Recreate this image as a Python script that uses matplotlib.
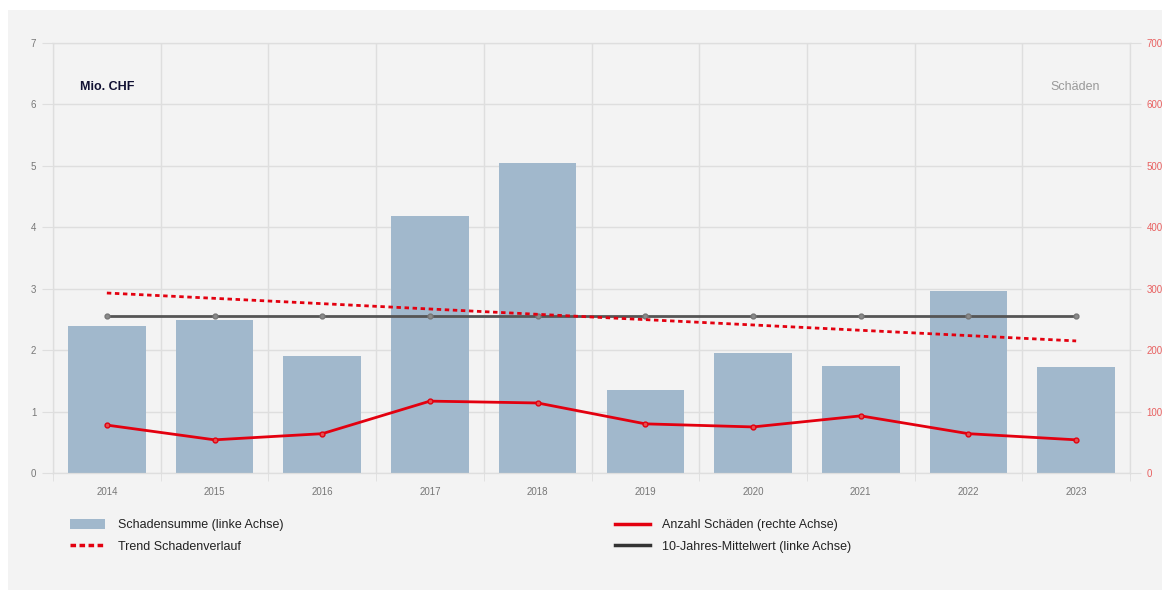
import matplotlib.pyplot as plt
from matplotlib.patches import Rectangle
from matplotlib.lines import Line2D
from matplotlib.patches import Patch

# data
years = ['2014', '2015', '2016', '2017', '2018', '2019', '2020', '2021', '2022', '2023']
schadensumme = [2.40, 2.49, 1.91, 4.19, 5.04, 1.35, 1.96, 1.74, 2.97, 1.72]   # Mio. CHF
anzahl = [78, 54, 64, 117, 114, 80, 75, 93, 64, 54]                          # Schäden
mittelwert = [2.56] * 10
trend_years = [0, 9]
trend_values = [2.93, 2.15]

bar_color = '#a1b8cc'
red = '#e3000f'
dark = '#555555'
grid_color = '#dedede'
bg = '#f3f3f3'

plt.rcParams['font.family'] = ['Liberation Sans', 'DejaVu Sans']

fig = plt.figure(figsize=(11.76, 5.92), dpi=100)
fig.patch.set_facecolor('white')
fig.patches.append(Rectangle((8 / 1176, 1 - 590 / 592), 1154 / 1176, 580 / 592,
                             transform=fig.transFigure, facecolor=bg, edgecolor='none', zorder=-1))

ax = fig.add_axes([53 / 1176, 1 - 473 / 592, 1077 / 1176, 430 / 592])
ax.set_facecolor(bg)
x = list(range(len(years)))

ax.bar(x, schadensumme, width=0.72, color=bar_color, zorder=2)
ax.plot(x, mittelwert, color=dark, linewidth=2, marker='o', markersize=3.5,
        markerfacecolor='#8a8a8a', markeredgecolor='#777777', zorder=4)
ax.plot(trend_years, trend_values, color=red, linewidth=2, linestyle=(0, (1.6, 1.3)), zorder=5)

ax.set_xlim(-0.5, 9.5)
ax.set_ylim(0, 7)
ax.set_yticks(range(0, 8))
ax.set_xticks(x)
ax.set_xticklabels(years)
ax.set_xticks([i + 0.5 for i in range(-1, 10)], minor=True)
ax.tick_params(axis='x', which='major', length=0, labelsize=7, colors='#777777', pad=10)
ax.tick_params(axis='x', which='minor', length=6, color=grid_color)
ax.tick_params(axis='y', length=8, color=grid_color, labelsize=7, labelcolor='#777777', pad=4)
ax.grid(axis='y', color=grid_color, linewidth=1, zorder=0)
ax.grid(axis='x', which='minor', color=grid_color, linewidth=1, zorder=0)
for s in ax.spines.values():
    s.set_color(grid_color)

ax2 = ax.twinx()
ax2.plot(x, anzahl, color=red, linewidth=2, marker='o', markersize=3.5,
         markerfacecolor='#e35050', markeredgecolor=red, zorder=6)
ax2.set_ylim(0, 700)
ax2.set_yticks(range(0, 800, 100))
ax2.tick_params(axis='y', length=8, color=grid_color, labelsize=7, labelcolor='#e86060', pad=4)
for s in ax2.spines.values():
    s.set_color(grid_color)

ax.text(0.025, 0.898, 'Mio. CHF', transform=ax.transAxes, fontsize=9, color='#111133',
        ha='left', va='center', fontweight='bold')
ax.text(0.972, 0.898, 'Schäden', transform=ax.transAxes, fontsize=9, color='#999999',
        ha='right', va='center')

# legend below the chart, two columns
handles_left = [Patch(facecolor=bar_color, edgecolor='none'),
                Line2D([], [], color=red, linewidth=2.5, linestyle=(0, (1.6, 1.0)))]
labels_left = ['Schadensumme (linke Achse)', 'Trend Schadenverlauf']
handles_right = [Line2D([], [], color=red, linewidth=2.5),
                 Line2D([], [], color='#333333', linewidth=2.5)]
labels_right = ['Anzahl Schäden (rechte Achse)', '10-Jahres-Mittelwert (linke Achse)']

legend_kw = dict(loc='upper left', frameon=False, fontsize=9, handlelength=2.8,
                 handleheight=0.8, labelspacing=0.75, handletextpad=1.0,
                 labelcolor='#222222', borderaxespad=0, borderpad=0)
fig.legend(handles_left, labels_left, bbox_to_anchor=(70 / 1176, 1 - 519 / 592), **legend_kw)
fig.legend(handles_right, labels_right, bbox_to_anchor=(615 / 1176, 1 - 519 / 592), **legend_kw)

fig.savefig('out.png', dpi=100, facecolor=fig.get_facecolor())
